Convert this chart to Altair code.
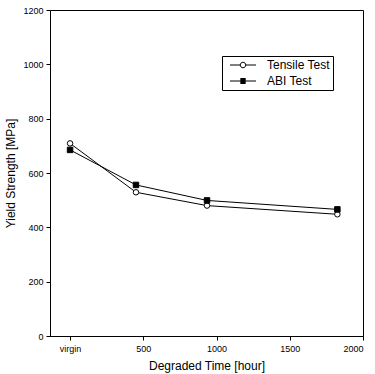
import altair as alt
import pandas as pd

hours = [0, 450, 935, 1825]
tensile = [709, 529, 480, 448]
abi = [685, 556, 499, 466]
series = ["Tensile Test", "ABI Test"]

rows = []
for h, t, a in zip(hours, tensile, abi):
    rows.append({"hour": h, "ys": t, "series": series[0]})
    rows.append({"hour": h, "ys": a, "series": series[1]})
df = pd.DataFrame(rows)

FONT = "Liberation Sans"
xscale = alt.Scale(domain=[-137, 2000], nice=False, zero=False)
yscale = alt.Scale(domain=[0, 1200], nice=False)

x = alt.X("hour:Q", scale=xscale, title="Degraded Time [hour]",
          axis=alt.Axis(values=[0, 500, 1000, 1500, 2000],
                        labelExpr="datum.value == 0 ? 'virgin' : datum.label",
                        format="d", grid=False, tickSize=4, labelFontSize=9,
                        titleFontSize=12, labelPadding=4, titlePadding=7,
                        domainColor="black", tickColor="black", labelColor="black",
                        titleColor="black", titleFontWeight="normal",
                        labelFont=FONT, titleFont=FONT))
y = alt.Y("ys:Q", scale=yscale, title="Yield Strength [MPa]",
          axis=alt.Axis(values=[0, 200, 400, 600, 800, 1000, 1200], grid=False,
                        format="d", tickSize=4, labelFontSize=9, titleFontSize=12,
                        labelPadding=3, titlePadding=5,
                        domainColor="black", tickColor="black", labelColor="black",
                        titleColor="black", titleFontWeight="normal",
                        labelFont=FONT, titleFont=FONT))

lines = alt.Chart(df).mark_line(color="black", strokeWidth=1).encode(
    x=x, y=y, detail="series:N")

pts = alt.Chart(df).mark_point(stroke="black", strokeWidth=1, opacity=1, size=30).encode(
    x=x, y=y,
    shape=alt.Shape("series:N", scale=alt.Scale(domain=series, range=["circle", "square"]), legend=None),
    fill=alt.Fill("series:N", scale=alt.Scale(domain=series, range=["white", "black"]), legend=None),
)

circ_path = "M-2.6,0H-0.55M0.55,0H2.6M-0.55,0A0.55,0.55 0 1,0 0.55,0A0.55,0.55 0 1,0 -0.55,0Z"
sq_path = "M-2.6,0H2.6" + "".join(
    f"M-0.5,{v:.1f}H0.5" for v in [-0.5, -0.4, -0.3, -0.2, -0.1, 0.1, 0.2, 0.3, 0.4, 0.5])

leg = alt.Chart(df).transform_filter("false").mark_point(
    filled=False, color="black", strokeWidth=1, opacity=1).encode(
    x=x, y=y,
    shape=alt.Shape("series:N", scale=alt.Scale(domain=series, range=[circ_path, sq_path]),
                    legend=alt.Legend(title=None, orient="none", legendX=172, legendY=46,
                                      symbolSize=100, symbolStrokeWidth=1,
                                      labelFontSize=12, labelFont=FONT, labelColor="black",
                                      labelOffset=18, strokeColor="black", padding=3,
                                      rowPadding=4, symbolOffset=12)),
)

chart = alt.layer(lines, pts, leg).resolve_scale(shape="independent").properties(
    width=313, height=326,
    autosize=alt.AutoSizeParams(type="none"),
    padding={"left": 50, "top": 10, "right": 12, "bottom": 38},
    background="white",
).configure_view(stroke="black", strokeWidth=1)

chart.save("out.html", embed_options={"renderer": "svg", "actions": False})
